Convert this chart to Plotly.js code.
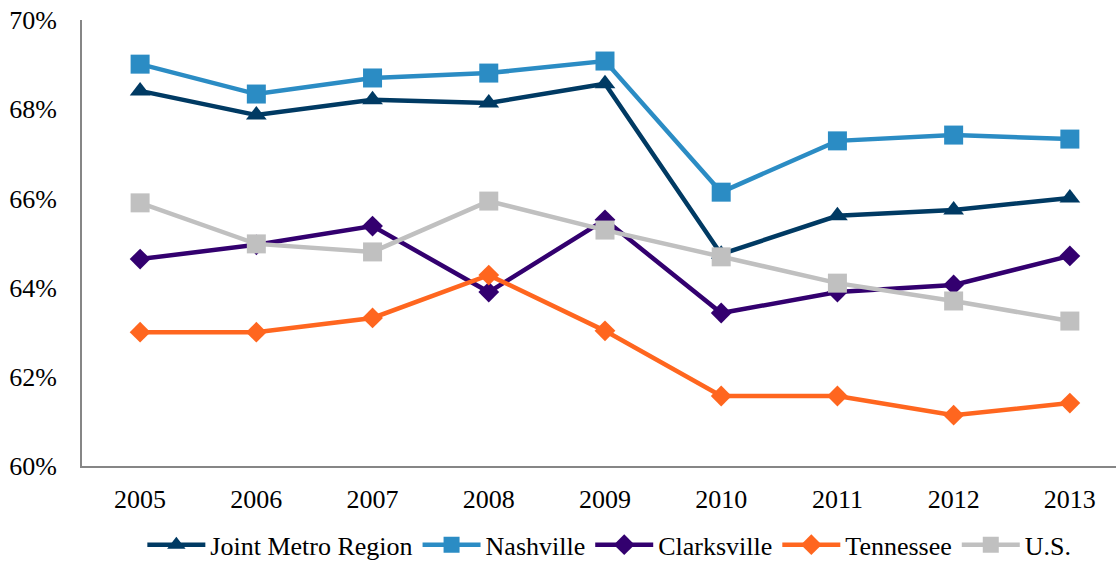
<!DOCTYPE html>
<html>
<head>
<meta charset="utf-8">
<script src="https://cdn.plot.ly/plotly-3.0.1.min.js"></script>
<style>
  html, body { margin: 0; padding: 0; background: #fff; }
  #chart { width: 1116px; height: 563px; }
</style>
</head>
<body>
<div id="chart"></div>
<script>
// Labor force participation rate by area, 2005–2013 (percent)
const years = ['2005', '2006', '2007', '2008', '2009', '2010', '2011', '2012', '2013'];
const jointMetro = [68.41, 67.87, 68.21, 68.14, 68.57, 64.75, 65.61, 65.74, 66.01];
const nashville  = [69.01, 68.34, 68.70, 68.81, 69.08, 66.14, 67.29, 67.42, 67.33];
const clarksville = [64.64, 64.96, 65.38, 63.90, 65.52, 63.43, 63.90, 64.06, 64.71];
const tennessee  = [63.00, 63.00, 63.32, 64.28, 63.03, 61.57, 61.57, 61.14, 61.41];
const us         = [65.90, 64.98, 64.80, 65.94, 65.29, 64.69, 64.10, 63.70, 63.25];
const yTicks = [60, 62, 64, 66, 68, 70];
const yTickText = yTicks.map(v => v + '%');

const FONT = 'Liberation Serif';
const FONT_SIZE = 26;

function series(name, values, color, symbol, size) {
  return {
    type: 'scatter',
    mode: 'lines+markers',
    name: name,
    x: years,
    y: values,
    line: { color: color, width: 4.5 },
    marker: { color: color, symbol: symbol, size: size },
    cliponaxis: false
  };
}

const data = [
  series('Joint Metro Region', jointMetro, '#003A63', 'triangle-up', 18),
  series('Nashville', nashville, '#2B8CC4', 'square', 19),
  series('Clarksville', clarksville, '#33006F', 'diamond', 16),
  series('Tennessee', tennessee, '#FF661F', 'diamond', 16),
  series('U.S.', us, '#C0C0C0', 'square', 19)
];

const layout = {
  width: 1116,
  height: 563,
  margin: { l: 82, r: 0, t: 20, b: 97, autoexpand: false },
  paper_bgcolor: '#ffffff',
  plot_bgcolor: '#ffffff',
  font: { family: FONT, size: FONT_SIZE, color: '#000' },
  showlegend: true,
  legend: {
    orientation: 'h',
    x: 0.51, xanchor: 'center',
    y: -0.124, yanchor: 'top',
    font: { family: FONT, size: FONT_SIZE, color: '#000' },
    itemwidth: 58,
    tracegroupgap: 0
  },
  xaxis: {
    type: 'category',
    range: [-0.5, 8.397],
    showgrid: false,
    zeroline: false,
    showline: true,
    linecolor: '#868686',
    linewidth: 2,
    ticks: '',
    ticklabelstandoff: 9,
    tickfont: { family: FONT, size: FONT_SIZE, color: '#000' }
  },
  yaxis: {
    range: [60, 70],
    tickvals: yTicks,
    ticktext: yTickText,
    showgrid: false,
    zeroline: false,
    showline: true,
    linecolor: '#868686',
    linewidth: 2,
    ticks: '',
    ticklabelstandoff: 18,
    tickfont: { family: FONT, size: FONT_SIZE, color: '#000' }
  }
};

Plotly.newPlot('chart', data, layout, { displayModeBar: false, staticPlot: true });
</script>
</body>
</html>
